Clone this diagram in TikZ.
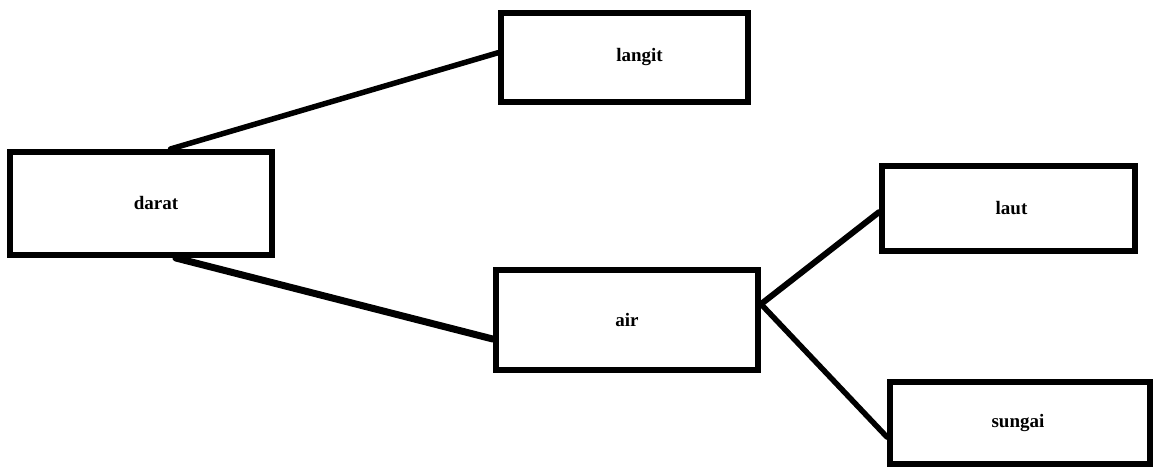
\documentclass[tikz,border=0pt]{standalone}
\usepackage{fontspec}
\setmainfont{Liberation Serif}
\usetikzlibrary{calc}
\tikzset{
  box/.style={draw=black, line width=6pt, rectangle, inner sep=0pt, fill=white},
  lbl/.style={font=\fontsize{19}{22}\selectfont\bfseries, text=black, inner sep=0pt},
  conn/.style={draw=black, line width=6pt, line cap=round}
}
\begin{document}
\begin{tikzpicture}[x=1pt,y=-1pt]
\useasboundingbox[fill=white] (0,0) rectangle (1154,470);
\node[box, minimum width=262pt, minimum height=103pt] (darat) at (141,203.5) {};
\node[box, minimum width=247pt, minimum height=89pt] (langit) at (624.5,57.5) {};
\node[box, minimum width=262pt, minimum height=100pt] (air) at (627,320) {};
\node[box, minimum width=253pt, minimum height=85pt] (laut) at (1008.5,208.5) {};
\node[box, minimum width=260pt, minimum height=82pt] (sungai) at (1020,423) {};
\draw[conn, line width=5.5pt] ($(darat.north west)!0.61!(darat.north east)$) coordinate (d1) -- ($(langit.north west)!0.45!(langit.south west)$) coordinate (l1);
\draw[conn, line width=7pt] ($(darat.south west)!0.63!(darat.south east)$) coordinate (d2) -- ($(air.north west)!0.68!(air.south west)$) coordinate (a1);
\draw[conn] ($(air.north east)!0.35!(air.south east)$) coordinate (a2) -- ($(laut.north west)!0.54!(laut.south west)$) coordinate (u1);
\draw[conn, line width=5.5pt] (a2) -- ($(sungai.north west)!0.66!(sungai.south west)$) coordinate (s1);
\node[lbl] (tdarat) at ($(darat.center)+(15,0)$) {darat};
\node[lbl] (tlangit) at ($(langit.center)+(15,0)$) {langit};
\node[lbl] (tair) at (air.center) {air};
\node[lbl] (tlaut) at ($(laut.center)+(3,0)$) {laut};
\node[lbl] (tsungai) at ($(sungai.center)+(-2,0)$) {sungai};
\end{tikzpicture}
\end{document}
